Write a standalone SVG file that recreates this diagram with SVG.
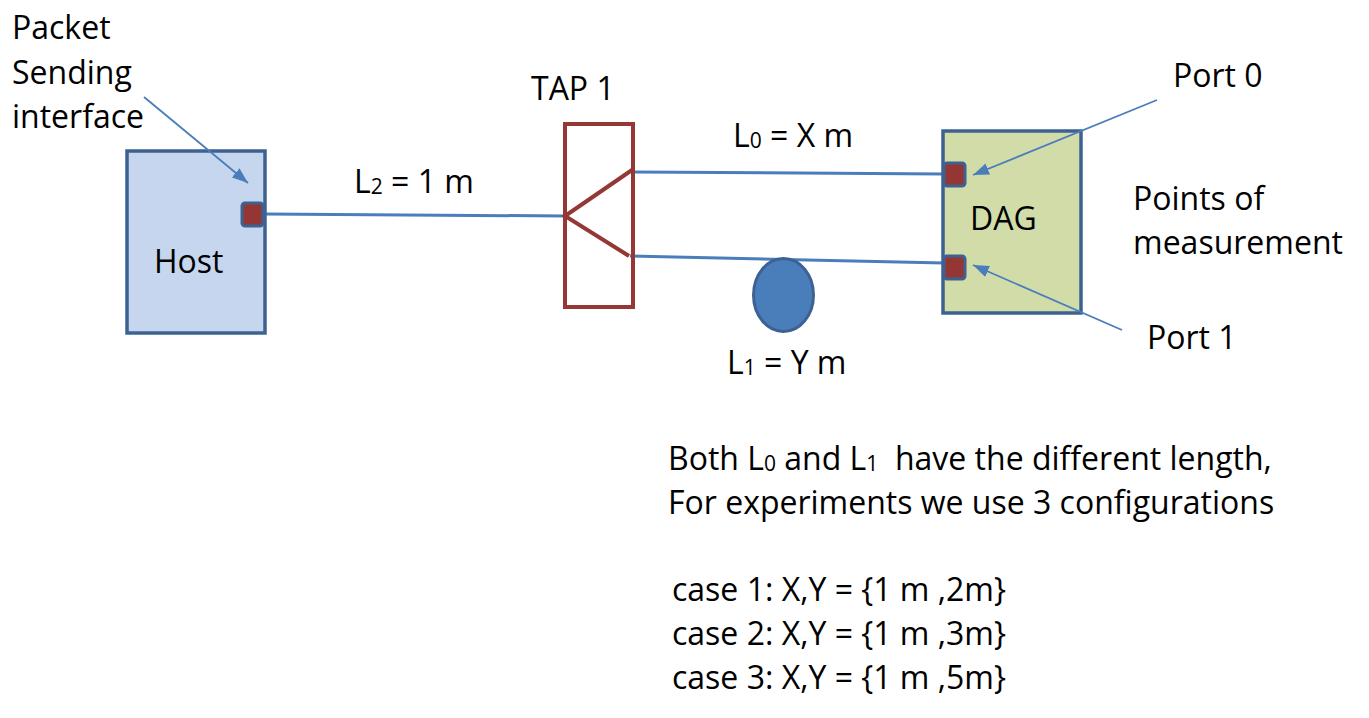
<svg xmlns="http://www.w3.org/2000/svg" width="1369" height="718" viewBox="0 0 1369 718">
<style>
text{font-family:"Open Sans","Liberation Sans",sans-serif;font-size:32px;fill:#000}
.sub{font-size:21px}
.box{stroke:#3d6292;stroke-width:3.5}
.port{fill:#943634;stroke:#3d6292;stroke-width:3}
.wire{stroke:#4a7ebb;stroke-width:3;fill:none}
.ptr{stroke:#4a7ebb;stroke-width:1.8;fill:none}
.tap{stroke:#953735;stroke-width:4;fill:none}
</style>
<defs>
<marker id="ah" viewBox="0 0 10 10" refX="10" refY="5" markerWidth="16" markerHeight="12" markerUnits="userSpaceOnUse" orient="auto" preserveAspectRatio="none">
<path d="M0,0 L10,5 L0,10 z" fill="#4a7ebb"/>
</marker>
</defs>
<rect width="1369" height="718" fill="#fff"/>
<g id="wires">
<line class="wire" x1="265" y1="214" x2="565" y2="216"/>
<line class="wire" x1="633" y1="172" x2="944" y2="174"/>
<line class="wire" x1="630" y1="256" x2="944" y2="263"/>
</g>
<g id="host">
<rect class="box" x="127" y="151" width="138" height="182" fill="#c6d6ee"/>
<rect class="port" x="242" y="203" width="21" height="23" rx="3"/>
<text x="154" y="273">Host</text>
</g>
<g id="tap1">
<rect class="tap" x="565" y="124" width="68" height="183"/>
<polyline class="tap" points="632,170 565,216 629,256" stroke-linejoin="miter"/>
<text x="531" y="100">TAP 1</text>
</g>
<g id="dag">
<rect class="box" x="943" y="131" width="138" height="182" fill="#d1dca9"/>
<rect class="port" x="944" y="163" width="21" height="23" rx="3"/>
<rect class="port" x="944" y="256" width="21" height="23" rx="3"/>
<text x="970" y="230">DAG</text>
</g>
<g id="coil">
<ellipse cx="783.5" cy="295" rx="30" ry="36.5" fill="#4a7ebb" stroke="#3d6292" stroke-width="3"/>
</g>
<g id="connectors">
<line class="ptr" x1="144" y1="97" x2="248" y2="183" marker-end="url(#ah)"/>
<line class="ptr" x1="1157" y1="100" x2="973" y2="175" marker-end="url(#ah)"/>
<line class="ptr" x1="1122" y1="330" x2="973" y2="265" marker-end="url(#ah)"/>
</g>
<g id="labels">
<text x="12" y="39">Packet</text>
<text x="12" y="84">Sending</text>
<text x="12" y="128">interface</text>
<text x="354" y="193">L<tspan class="sub" dy="1">2</tspan><tspan dy="-1"> = 1 m</tspan></text>
<text x="733" y="147">L<tspan class="sub" dy="1">0</tspan><tspan dy="-1"> = X m</tspan></text>
<text x="727" y="374">L<tspan class="sub" dy="1">1</tspan><tspan dy="-1"> = Y m</tspan></text>
<text x="1173" y="87">Port 0</text>
<text x="1133" y="210">Points of</text>
<text x="1133" y="254">measurement</text>
<text x="1147" y="349">Port 1</text>
<text x="668" y="470">Both L<tspan class="sub" dy="1">0</tspan><tspan dy="-1"> and L</tspan><tspan class="sub" dy="1">1</tspan><tspan dy="-1">&#160; have the different length,</tspan></text>
<text x="668" y="514">For experiments we use 3 configurations</text>
<text x="672" y="601">case 1: X,Y = {1 m ,2m}</text>
<text x="672" y="645">case 2: X,Y = {1 m ,3m}</text>
<text x="672" y="689">case 3: X,Y = {1 m ,5m}</text>
</g>
</svg>
